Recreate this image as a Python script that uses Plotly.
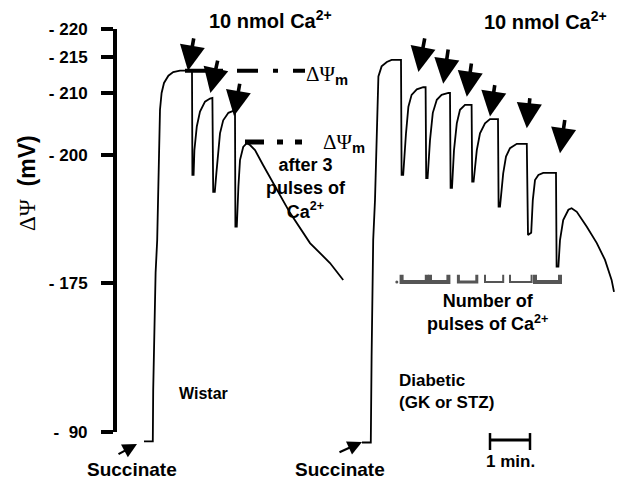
import numpy as np
import plotly.graph_objects as go

W, H = 618, 481

# ---------------- data ----------------
# time (min, shared recording time axis) and membrane potential (mV)
wistar_t = [3.60, 3.82, 3.83, 3.86, 3.89, 3.93, 3.975, 4.00, 4.04, 4.10, 4.21, 4.33, 4.50, 4.80,
            4.81, 4.84, 4.86, 4.92, 5.00, 5.125, 5.25, 5.31,
            5.33, 5.37, 5.41, 5.44, 5.50, 5.58, 5.71, 5.83, 5.875,
            5.885, 5.92, 5.96, 6.00, 6.08, 6.17, 6.25, 6.375, 6.58, 6.92, 7.25, 7.75, 8.25, 8.58]
wistar_mv = [84.6, 84.6, 114.0, 155.8, 177.0, 183.4, 203.5, 207.3, 210.0, 211.4, 212.4, 212.9, 213.1, 213.1,
             196.1, 196.1, 200.8, 204.6, 207.0, 208.6, 209.1, 209.2,
             192.8, 192.8, 196.5, 199.0, 203.5, 205.6, 206.8, 207.1, 207.1,
             186.0, 186.0, 193.8, 199.0, 201.3, 201.9, 201.6, 200.8, 198.0, 193.2, 188.7, 182.8, 178.9, 175.6]

diab_t = [9.05, 9.27, 9.29, 9.33, 9.375, 9.42, 9.46, 9.54, 9.67, 9.79, 10.025,
          10.04, 10.08, 10.15, 10.21, 10.29, 10.42, 10.58, 10.64,
          10.655, 10.69, 10.75, 10.82, 10.92, 11.04, 11.21, 11.25,
          11.265, 11.30, 11.35, 11.42, 11.50, 11.625, 11.79,
          11.805, 11.84, 11.92, 12.00, 12.125, 12.25, 12.45,
          12.465, 12.50, 12.58, 12.65, 12.75, 12.92, 13.17,
          13.20, 13.28, 13.32, 13.375, 13.46, 13.58, 13.90,
          13.915, 13.96, 14.00, 14.08, 14.21, 14.29, 14.42, 14.67, 14.92, 15.125, 15.29, 15.35]
diab_mv = [84.0, 84.0, 133.0, 183.4, 191.2, 202.4, 212.3, 213.7, 214.3, 214.6, 214.6,
           196.1, 196.1, 203.5, 207.8, 209.7, 210.5, 210.8, 210.8,
           195.5, 195.5, 202.4, 206.8, 208.9, 209.7, 210.0, 210.0,
           193.6, 193.6, 200.8, 205.1, 207.3, 208.1, 208.1,
           194.8, 194.8, 200.8, 203.5, 205.1, 205.8, 205.8,
           189.9, 189.9, 196.4, 199.7, 201.1, 201.8, 201.8,
           184.4, 184.8, 191.2, 195.1, 196.1, 196.5, 196.5,
           178.2, 178.2, 183.4, 187.3, 189.3, 189.6, 188.9, 186.0, 182.8, 179.5, 175.6, 169.9]

# Ca2+ pulse arrows: (tail time, tail mV, tip time, tip mV)
wistar_pulse_tail_t = [4.85, 5.45, 6.00]
wistar_pulse_tail_mv = [218.6, 214.7, 211.5]
wistar_pulse_tip_t = [4.70, 5.26, 5.85]
wistar_pulse_tip_mv = [213.1, 210.0, 206.3]
diab_pulse_tail_t = [10.625, 11.21, 11.79, 12.375, 13.25, 14.125]
diab_pulse_tail_mv = [218.6, 216.6, 214.3, 211.3, 209.4, 205.9]
diab_pulse_tip_t = [10.46, 11.08, 11.67, 12.25, 13.17, 14.00]
diab_pulse_tip_mv = [212.9, 211.3, 209.4, 206.2, 204.3, 200.3]

# reference potentials (dashed lines)
dpsi_initial_mv = 213.1
dpsi_initial_t = [4.625, 7.625]
dpsi_after3_mv = 202.1
dpsi_after3_t = [6.125, 7.55]

# pulse-count brackets (start, end time)
bracket_start = [10.04, 10.75, 11.46, 12.125, 12.75, 13.375]
bracket_end = [10.67, 11.21, 11.92, 12.58, 13.29, 14.00]
bracket_width = [4, 4, 3, 2, 2, 4]
bracket_top_mv = 176.6
bracket_bot_mv = 175.2

# succinate additions (tail t, tail mV, tip t, tip mV)
succ_tail_t = [2.925, 8.45]
succ_tail_mv = [76.9, 78.0]
succ_tip_t = [3.425, 9.05]
succ_tip_mv = [83.1, 84.3]

# 1 min scale bar
scalebar_t = [12.25, 13.25]
scalebar_mv = 85.4
scalebar_cap_mv = [89.4, 79.7]

# y axis ticks (broken / non-linear mV axis)
ytick_mv = [90, 175, 200, 210, 215, 220]
ytick_text = ["- \u00a090", "- 175", "- 200", "- 210", "- 215", "- 220"]

# non-linear axis scale: mV -> axis position
scale_mv = [70, 90, 175, 200, 210, 215, 220, 226]
scale_pos = [14, 49, 198, 326, 388, 424, 452, 485.6]


def to_axis(v):
    return np.interp(np.asarray(v, dtype=float), scale_mv, scale_pos)


SANS = "Liberation Sans, Arial, sans-serif"

fig = go.Figure()

# recordings
fig.add_trace(go.Scatter(x=wistar_t, y=to_axis(wistar_mv), mode="lines",
                         line=dict(color="black", width=1.8), hoverinfo="skip"))
fig.add_trace(go.Scatter(x=diab_t, y=to_axis(diab_mv), mode="lines",
                         line=dict(color="black", width=1.8), hoverinfo="skip"))

# dashed reference lines
fig.add_trace(go.Scatter(x=dpsi_initial_t, y=to_axis([dpsi_initial_mv] * 2), mode="lines",
                         line=dict(color="black", width=4,
                                   dash="38px,14px,21px,15px,5px,15px,14px,200px"),
                         hoverinfo="skip"))
fig.add_trace(go.Scatter(x=dpsi_after3_t, y=to_axis([dpsi_after3_mv] * 2), mode="lines",
                         line=dict(color="black", width=5,
                                   dash="19px,13px,6px,12px,7px,200px"),
                         hoverinfo="skip"))

# brackets
for s, e, w in zip(bracket_start, bracket_end, bracket_width):
    fig.add_trace(go.Scatter(x=[s, s, e, e],
                             y=to_axis([bracket_top_mv, bracket_bot_mv, bracket_bot_mv, bracket_top_mv]),
                             mode="lines", line=dict(color="#555555", width=w), hoverinfo="skip"))
fig.add_trace(go.Scatter(x=[bracket_start[0] - 0.12], y=to_axis([bracket_bot_mv]), mode="markers",
                         marker=dict(color="#555555", size=3), hoverinfo="skip"))

# scale bar
fig.add_trace(go.Scatter(x=scalebar_t, y=to_axis([scalebar_mv] * 2), mode="lines",
                         line=dict(color="black", width=3), hoverinfo="skip"))
for tt in scalebar_t:
    fig.add_trace(go.Scatter(x=[tt, tt], y=to_axis(scalebar_cap_mv), mode="lines",
                             line=dict(color="black", width=2.5), hoverinfo="skip"))

# dummy trace for tick axis
fig.add_trace(go.Scatter(x=[None], y=[None], yaxis="y2", hoverinfo="skip"))

anns = []
# pulse arrows
for tx, ty, hx, hy in list(zip(wistar_pulse_tail_t, wistar_pulse_tail_mv, wistar_pulse_tip_t, wistar_pulse_tip_mv)) + \
        list(zip(diab_pulse_tail_t, diab_pulse_tail_mv, diab_pulse_tip_t, diab_pulse_tip_mv)):
    anns.append(dict(x=hx, y=float(to_axis(hy)), ax=tx, ay=float(to_axis(ty)), xref="x", yref="y",
                     axref="x", ayref="y", text="", showarrow=True, arrowhead=2, arrowsize=1.4,
                     arrowwidth=3.6, arrowcolor="black", standoff=0))
for tx, ty, hx, hy in zip(succ_tail_t, succ_tail_mv, succ_tip_t, succ_tip_mv):
    anns.append(dict(x=hx, y=float(to_axis(hy)), ax=tx, ay=float(to_axis(ty)), xref="x", yref="y",
                     axref="x", ayref="y", text="", showarrow=True, arrowhead=2, arrowsize=1.3,
                     arrowwidth=2.2, arrowcolor="black", standoff=0))


def ptxt(text, px, py, size, xanchor="center", align="center", angle=0):
    anns.append(dict(x=px / W, y=1 - py / H, xref="paper", yref="paper", text=text,
                     showarrow=False, xanchor=xanchor, yanchor="middle", align=align,
                     textangle=angle, font=dict(family=SANS, size=size, color="black")))


ptxt("<b>10 nmol Ca<sup>2+</sup></b>", 270, 19, 20)
ptxt("<b>10 nmol Ca<sup>2+</sup></b>", 545, 20, 20)
dpsi = ('<span style="font-family:Liberation Serif">\u0394\u03a8</span>'
        '<sub><b>m</b></sub>')
ptxt(dpsi, 304, 75, 21, xanchor="left")
ptxt(dpsi, 321, 143, 21, xanchor="left")
ptxt("<b>after 3<br>pulses of<br>Ca<sup>2+</sup></b>", 306, 189, 18)
ptxt("<b>Number of<br>pulses of Ca<sup>2+</sup></b>", 488, 312, 18)
ptxt("<b>Wistar</b>", 203, 393, 16)
ptxt("<b>Diabetic<br>(GK or STZ)</b>", 397, 391, 17, xanchor="left", align="left")
ptxt("<b>Succinate</b>", 132, 469, 19)
ptxt("<b>Succinate</b>", 340, 469, 19)
ptxt("<b>1 min.</b>", 510, 461, 17)
ptxt('<span style="font-family:Liberation Serif">\u0394\u03a8</span>  <b>(mV)</b>', 27, 183, 23, angle=-90)

fig.update_layout(
    template="none",
    width=W, height=H, margin=dict(l=0, r=0, t=0, b=0, pad=0, autoexpand=False),
    paper_bgcolor="white", plot_bgcolor="rgba(0,0,0,0)", showlegend=False,
    xaxis=dict(range=[0, W / 40], domain=[0, 1], visible=False, automargin=False),
    yaxis=dict(range=[0, H], domain=[0, 1], visible=False, automargin=False),
    yaxis2=dict(range=[to_axis(90), to_axis(220)],
                domain=[float(to_axis(90)) / H, float(to_axis(220)) / H],
                anchor="free", position=115 / W, side="left", automargin=False,
                showline=True, linewidth=4, linecolor="black",
                ticks="outside", ticklen=12, tickwidth=4, tickcolor="black",
                tickvals=to_axis(ytick_mv), ticktext=ytick_text,
                tickfont=dict(family=SANS, size=17, color="black", weight="bold"),
                ticklabelstandoff=10, showgrid=False, zeroline=False),
    annotations=anns,
)

fig.write_html("out.html", post_script="document.body.style.margin='0';")
